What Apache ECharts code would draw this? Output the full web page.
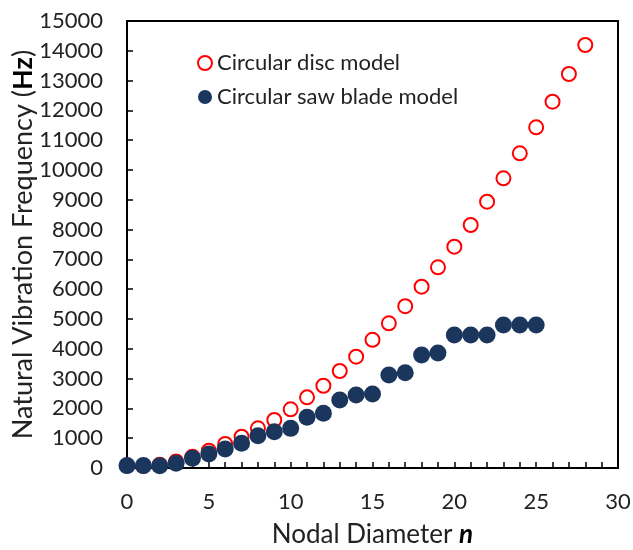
<!DOCTYPE html>
<html>
<head>
<meta charset="utf-8">
<script src="https://cdn.jsdelivr.net/npm/echarts@6/dist/echarts.min.js"></script>
<style>
  html, body { margin: 0; padding: 0; background: #fff; }
  #chart { width: 633px; height: 550px; }
</style>
</head>
<body>
<div id="chart"></div>
<script>
// Nodal diameter n
const discN = [0,1,2,3,4,5,6,7,8,9,10,11,12,13,14,15,16,17,18,19,20,21,22,23,24,25,26,27,28];
const bladeN = [0,1,2,3,4,5,6,7,8,9,10,11,12,13,14,15,16,17,18,19,20,21,22,23,24,25];
// Natural vibration frequency (Hz)
const discHz = [80, 70, 110, 220, 380, 580, 805, 1050, 1330, 1610, 1970, 2370, 2760, 3255, 3735, 4300, 4856, 5430, 6084, 6735, 7426, 8154, 8937, 9721, 10560, 11433, 12292, 13221, 14195];
const bladeHz = [80, 80, 75, 160, 325, 470, 640, 830, 1085, 1220, 1330, 1700, 1835, 2280, 2450, 2485, 3120, 3200, 3790, 3860, 4460, 4460, 4460, 4800, 4800, 4800];

const FONT = 'Lato';
const TXT = '#222';
const chart = echarts.init(document.getElementById('chart'));
chart.setOption({
  animation: false,
  textStyle: { fontFamily: FONT },
  grid: {
    left: 127, right: 15, top: 21, bottom: 82,
    containLabel: false, outerBoundsMode: 'none',
    show: true, borderColor: '#000', borderWidth: 2, backgroundColor: 'transparent'
  },
  legend: {
    orient: 'vertical',
    left: 192, top: 47,
    itemWidth: 14, itemHeight: 14, itemGap: 12,
    textStyle: { fontFamily: FONT, fontSize: 22, color: TXT },
    data: ['Circular disc model', 'Circular saw blade model']
  },
  xAxis: {
    type: 'value', min: 0, max: 30, interval: 5,
    name: '{t|Nodal Diameter }{b|n}',
    nameLocation: 'middle', nameGap: 54, nameMoveOverlap: false,
    nameTextStyle: {
      rich: {
        t: { fontFamily: FONT, fontSize: 26, color: TXT },
        b: { fontFamily: FONT, fontSize: 26, color: '#000', fontWeight: 'bold', fontStyle: 'italic' }
      }
    },
    axisLine: { lineStyle: { color: '#000', width: 2 } },
    axisTick: { inside: true, length: 6, lineStyle: { color: '#000', width: 1.5 } },
    minorTick: { show: true, splitNumber: 5, length: 6, lineStyle: { color: '#000', width: 1.5 } },
    axisLabel: { fontFamily: FONT, fontSize: 22, color: TXT, margin: 23 },
    splitLine: { show: false }
  },
  yAxis: {
    type: 'value', min: 0, max: 15000, interval: 1000,
    name: '{t|Natural Vibration Frequency (}{b|Hz}{t|)}',
    nameLocation: 'middle', nameGap: 90, nameRotate: 90, nameMoveOverlap: false,
    nameTextStyle: {
      rich: {
        t: { fontFamily: FONT, fontSize: 27, color: TXT },
        b: { fontFamily: FONT, fontSize: 27, color: '#000', fontWeight: 'bold' }
      }
    },
    axisLine: { show: true, lineStyle: { color: '#000', width: 2 } },
    axisTick: { show: true, inside: true, length: 6, lineStyle: { color: '#000', width: 1.5 } },
    axisLabel: { fontFamily: FONT, fontSize: 22, color: TXT, margin: 24, formatter: v => String(v) },
    splitLine: { show: false }
  },
  series: [
    {
      name: 'Circular disc model',
      type: 'scatter',
      symbol: 'circle',
      symbolSize: 14,
      itemStyle: { color: '#fff', borderColor: '#ff0000', borderWidth: 2, opacity: 1 },
      data: discN.map((n, i) => [n, discHz[i]]),
      z: 2
    },
    {
      name: 'Circular saw blade model',
      type: 'scatter',
      symbol: 'circle',
      symbolSize: 17,
      itemStyle: { color: '#1b365d', opacity: 1 },
      data: bladeN.map((n, i) => [n, bladeHz[i]]),
      z: 3
    }
  ]
});
</script>
</body>
</html>
